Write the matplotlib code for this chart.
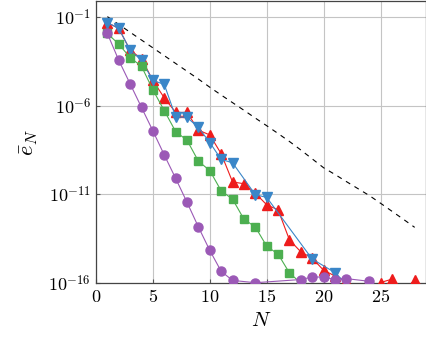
import matplotlib
matplotlib.use('Agg')
import matplotlib.pyplot as plt
import numpy as np
from matplotlib.ticker import FuncFormatter, FixedLocator

plt.rcParams['mathtext.fontset'] = 'cm'
plt.rcParams['font.family'] = 'serif'
plt.rcParams['font.serif'] = ['DejaVu Serif']

# log10 of the error
n_ref = list(range(1, 29))
ref_log = [-0.98, -1.42, -1.86, -2.3, -2.74, -3.18, -3.62, -4.06, -4.5, -4.96,
           -5.4, -5.83, -6.26, -6.7, -7.13, -7.57, -8.02, -8.5, -9.0, -9.5,
           -9.88, -10.28, -10.67, -11.06, -11.5, -11.95, -12.4, -12.86]

n_purple = [1, 2, 3, 4, 5, 6, 7, 8, 9, 10, 11, 12, 14, 18, 19, 20, 21, 22, 24]
purple_log = [-1.93, -3.44, -4.77, -6.1, -7.42, -8.78, -10.1, -11.45, -12.84,
              -14.16, -15.34, -15.85, -15.98, -15.8, -15.66, -15.66, -15.8,
              -15.75, -15.9]

n_green = list(range(1, 19))
green_log = [-1.93, -2.53, -3.29, -3.78, -5.11, -6.28, -7.46, -7.95, -9.13,
             -9.66, -10.8, -11.27, -12.4, -12.84, -13.92, -14.37, -15.43, -16.0]

n_red = list(range(1, 29))
red_log = [-1.32, -1.64, -2.875, -3.35, -4.58, -5.56, -6.38, -6.38, -7.38,
           -7.65, -8.71, -10.3, -10.4, -10.93, -11.59, -11.87, -13.57, -14.24,
           -14.6, -15.28, -15.6, -15.9, -16.6, -16.6, -15.97, -15.78, -16.4,
           -15.84]

n_blue = [1, 2, 3, 4, 5, 6, 7, 8, 9, 10, 11, 12, 14, 15, 19, 21, 23]
blue_log = [-1.32, -1.64, -2.875, -3.44, -4.58, -4.8, -6.63, -6.66, -7.23,
            -8.08, -9.03, -9.22, -11.02, -11.17, -14.65, -15.41, -16.7]

x_ticks = [0, 5, 10, 15, 20, 25]
y_ticks = [1e-16, 1e-11, 1e-6, 1e-1]

fig = plt.figure(figsize=(4.27, 3.39), dpi=100)
ax = fig.add_axes([0.2248, 0.165, 0.773, 0.832])

ax.plot(n_ref, 10.0 ** np.array(ref_log), color='black', lw=0.8,
        dashes=(4.5, 4.5))
ax.plot(n_red, 10.0 ** np.array(red_log), color='#ee1c1c', lw=0.8,
        marker='^', ms=6.5, zorder=3)
ax.plot(n_blue, 10.0 ** np.array(blue_log), color='#3a86c8', lw=0.8,
        marker='v', ms=6.5, zorder=3)
ax.plot(n_green, 10.0 ** np.array(green_log), color='#4caf50', lw=0.8,
        marker='s', ms=6, zorder=3)
ax.plot(n_purple, 10.0 ** np.array(purple_log), color='#9b59b6', lw=0.8,
        marker='o', ms=6.5, zorder=3)

ax.set_yscale('log')
ax.set_xlim(0, 29)
ax.set_ylim(1e-16, 10 ** -0.1)

ax.xaxis.set_major_locator(FixedLocator(x_ticks))
ax.yaxis.set_major_locator(FixedLocator(y_ticks))
ax.yaxis.set_minor_locator(FixedLocator([]))
ax.xaxis.set_major_formatter(FuncFormatter(lambda v, p: r'$%d$' % v))
ax.yaxis.set_major_formatter(
    FuncFormatter(lambda v, p: r'$10^{%d}$' % round(np.log10(v))))

ax.grid(True, color='#c4c4c4', lw=0.8)
ax.set_axisbelow(True)
ax.tick_params(labelsize=13, length=3, color='#555555', direction='in')
for s in ax.spines.values():
    s.set_color('#444444')
    s.set_linewidth(0.9)

ax.set_xlabel(r'$N$', fontsize=15, labelpad=4)
ax.set_ylabel(r'$\bar{e}_N$', fontsize=16, labelpad=6)

fig.savefig('out.png', dpi=100)
